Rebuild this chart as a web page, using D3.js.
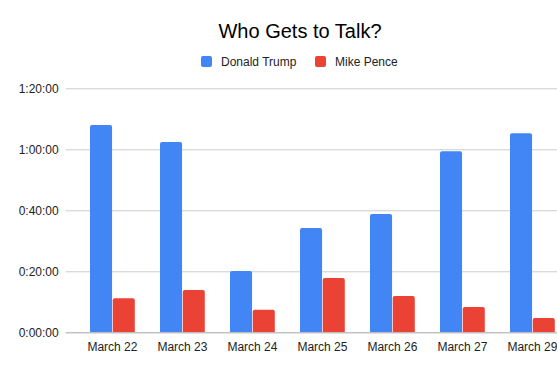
<!DOCTYPE html>
<html>
<head>
<meta charset="utf-8">
<script src="https://cdn.jsdelivr.net/npm/d3@7"></script>
<style>
  body { margin: 0; background: #fff; }
  svg { display: block; font-family: "Liberation Sans", Arial, sans-serif; }
</style>
</head>
<body>
<svg id="chart" width="557" height="371"></svg>
<script>
// Chart data (minutes of speaking time)
const categories = ['March 22', 'March 23', 'March 24', 'March 25', 'March 26', 'March 27', 'March 29'];
const seriesNames = ['Donald Trump', 'Mike Pence'];
const trumpMinutes = [68.0, 62.4, 20.1, 34.2, 38.8, 59.4, 65.3];
const penceMinutes = [11.2, 13.9, 7.4, 17.8, 11.9, 8.3, 4.7];
const yTicks = [0, 20, 40, 60, 80];
const colors = ['#4285F4', '#EA4335'];

const svg = d3.select('#chart');
const width = 557, height = 371;

const y = d3.scaleLinear().domain([0, 80]).range([332.3, 88.3]);
const x = d3.scaleBand().domain(categories).range([90, 554.8]).paddingInner(0.36).paddingOuter(0);
const xInner = d3.scaleBand().domain(seriesNames).range([0, x.bandwidth()]).paddingInner(0.03);

function fmtTime(m) {
    const h = Math.floor(m / 60);
    const mm = Math.round(m % 60);
    return `${h}:${String(mm).padStart(2, '0')}:00`;
}

// Title
svg.append('text')
    .attr('x', 300).attr('y', 38)
    .attr('text-anchor', 'middle')
    .style('font-size', '20px')
    .style('fill', '#000')
    .text('Who Gets to Talk?');

// Legend
const legendItems = [{ name: seriesNames[0], x: 201 }, { name: seriesNames[1], x: 315 }];
legendItems.forEach((d, i) => {
    const g = svg.append('g').attr('transform', `translate(${d.x}, 56)`);
    g.append('rect').attr('width', 11).attr('height', 11).attr('rx', 2).attr('fill', colors[i]);
    g.append('text').attr('x', 20).attr('y', 10)
        .style('font-size', '12px').style('fill', '#222').text(d.name);
});

// Gridlines + y axis
const yAxis = d3.axisLeft(y).tickValues(yTicks).tickFormat(fmtTime).tickSize(-(width - 65.7)).tickPadding(7);
const yg = svg.append('g').attr('transform', 'translate(65.7, 0)').call(yAxis);
yg.select('.domain').remove();
yg.selectAll('.tick line').attr('stroke', '#ccc');
yg.selectAll('.tick text').style('font-size', '12px').style('fill', '#222')
    .attr('font-family', '"Liberation Sans", Arial, sans-serif');

// Bars with rounded tops
function barPath(x0, w, yTop, yBase, r) {
    r = Math.min(r, w / 2, (yBase - yTop));
    return `M${x0},${yBase}V${yTop + r}Q${x0},${yTop} ${x0 + r},${yTop}H${x0 + w - r}Q${x0 + w},${yTop} ${x0 + w},${yTop + r}V${yBase}Z`;
}

const seriesValues = [trumpMinutes, penceMinutes];
seriesValues.forEach((vals, si) => {
    svg.append('g').selectAll('path')
        .data(categories)
        .join('path')
        .attr('fill', colors[si])
        .attr('d', (c, i) => barPath(x(c) + xInner(seriesNames[si]), xInner.bandwidth(), y(vals[i]), y(0), 2));
});

// Baseline
svg.append('line').attr('x1', 65.7).attr('x2', width).attr('y1', y(0) + 0.5).attr('y2', y(0) + 0.5)
    .attr('stroke', '#bbb');

// X axis labels
const xAxis = d3.axisBottom(x).tickSize(0).tickPadding(10);
const xg = svg.append('g').attr('transform', `translate(0, ${y(0)})`).call(xAxis);
xg.select('.domain').remove();
xg.selectAll('.tick text').style('font-size', '12px').style('fill', '#222')
    .attr('font-family', '"Liberation Sans", Arial, sans-serif');
</script>
</body>
</html>
